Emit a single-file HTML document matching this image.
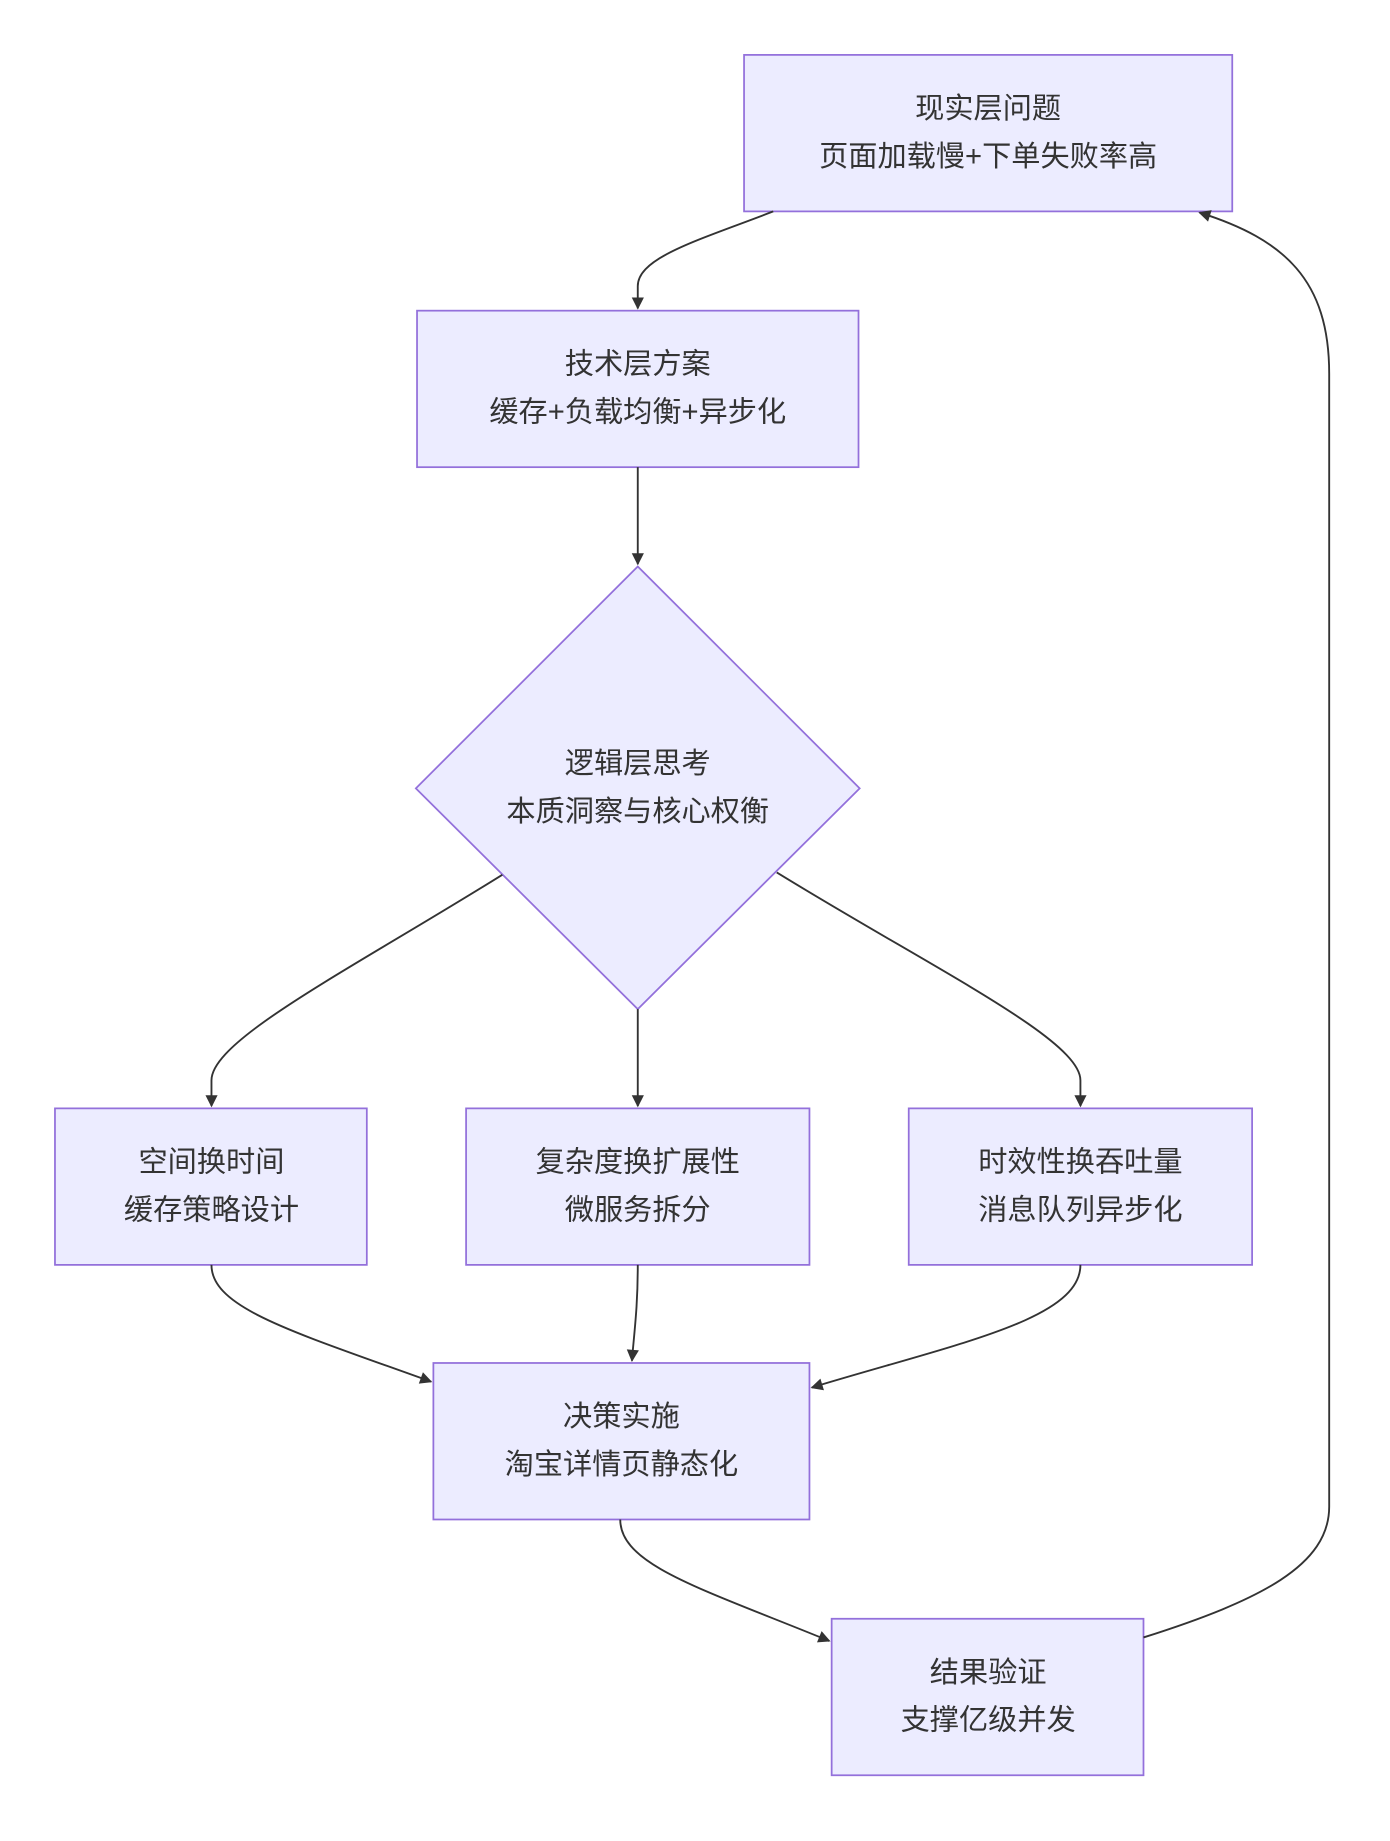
<!DOCTYPE html>
<html><head><meta charset="utf-8"><style>
html,body{margin:0;padding:0;background:#fff;}
svg text{font-family:"Liberation Sans","Noto Sans CJK SC",sans-serif;font-size:25px;fill:#333;text-anchor:middle;}
</style></head><body>
<svg width="1390" height="1836" viewBox="0 0 1190 1572" xmlns="http://www.w3.org/2000/svg">
<defs><marker id="a" viewBox="0 0 10 10" refX="9" refY="5" markerWidth="8" markerHeight="8" orient="auto-start-reverse" markerUnits="userSpaceOnUse" style="overflow:visible"><path d="M0,0 L10,5 L0,10 z" fill="#333" transform="scale(1.3) translate(-2,-1.2)"/></marker></defs>
<g fill="#ECECFF" stroke="#9370DB" stroke-width="1.5">
<rect x="637" y="47" width="418" height="134"/>
<rect x="357" y="266" width="378" height="134"/>
<polygon points="546,485 736,675 546,864 356,675"/>
<rect x="47" y="949" width="267" height="134"/>
<rect x="399" y="949" width="294" height="134"/>
<rect x="778" y="949" width="294" height="134"/>
<rect x="371" y="1167" width="322" height="134"/>
<rect x="712" y="1386" width="267" height="134"/>
</g>
<g fill="none" stroke="#333" stroke-width="1.6" marker-end="url(#a)">
<path d="M662,181 C600,205 546,220 546,245 L546,264"/>
<path d="M546,400 L546,483"/>
<path d="M430,749 C300,830 181,890 181,925 L181,947"/>
<path d="M546,864 L546,947"/>
<path d="M665,747 C800,830 925,890 925,925 L925,947"/>
<path d="M181,1083 C181,1120 250,1140 369,1183"/>
<path d="M546,1083 C546,1120 543,1140 541,1165"/>
<path d="M925,1083 C925,1130 820,1150 695,1188"/>
<path d="M531,1301 C531,1340 600,1360 710,1405"/>
<path d="M979,1402 C1080,1370 1138,1340 1138,1290 L1138,320 C1138,240 1100,205 1027,182"/>
</g>
<text x="846" y="101">现实层问题</text><text x="846" y="142">页面加载慢+下单失败率高</text>
<text x="546" y="320">技术层方案</text><text x="546" y="361">缓存+负载均衡+异步化</text>
<text x="546" y="662">逻辑层思考</text><text x="546" y="703">本质洞察与核心权衡</text>
<text x="181" y="1003">空间换时间</text><text x="181" y="1044">缓存策略设计</text>
<text x="546" y="1003">复杂度换扩展性</text><text x="546" y="1044">微服务拆分</text>
<text x="925" y="1003">时效性换吞吐量</text><text x="925" y="1044">消息队列异步化</text>
<text x="532" y="1221">决策实施</text><text x="532" y="1262">淘宝详情页静态化</text>
<text x="846" y="1440">结果验证</text><text x="846" y="1481">支撑亿级并发</text>
</svg>
</body></html>
